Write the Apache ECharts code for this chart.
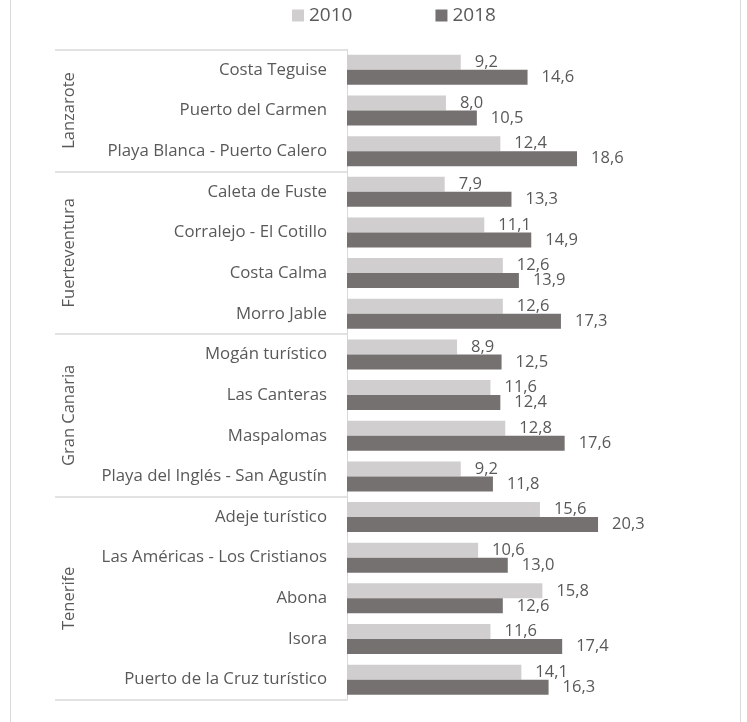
<!DOCTYPE html>
<html>
<head>
<meta charset="utf-8">
<script src="https://cdn.jsdelivr.net/npm/echarts@6/dist/echarts.min.js"></script>
<style>
html,body{margin:0;padding:0;background:#fff;}
#main{width:747px;height:722px;}
</style>
</head>
<body>
<div id="main"></div>
<script>
const categories = [
  'Costa Teguise', 'Puerto del Carmen', 'Playa Blanca - Puerto Calero',
  'Caleta de Fuste', 'Corralejo - El Cotillo', 'Costa Calma', 'Morro Jable',
  'Mogán turístico', 'Las Canteras', 'Maspalomas', 'Playa del Inglés - San Agustín',
  'Adeje turístico', 'Las Américas - Los Cristianos', 'Abona', 'Isora', 'Puerto de la Cruz turístico'
];
const values2010 = [9.2, 8.0, 12.4, 7.9, 11.1, 12.6, 12.6, 8.9, 11.6, 12.8, 9.2, 15.6, 10.6, 15.8, 11.6, 14.1];
const values2018 = [14.6, 10.5, 18.6, 13.3, 14.9, 13.9, 17.3, 12.5, 12.4, 17.6, 11.8, 20.3, 13.0, 12.6, 17.4, 16.3];
const seriesNames = ['2010', '2018'];
const groupNames = ['Lanzarote', 'Fuerteventura', 'Gran Canaria', 'Tenerife'];
const groupSizes = [3, 4, 4, 5];

const FONT = '"Open Sans", "Noto Sans", sans-serif';
const TEXT = '#595959';
const LINE = '#d9d9d9';

// group start indices
const groupStarts = [];
let acc = 0;
groupSizes.forEach(s => { groupStarts.push(acc); acc += s; });

const fmt = p => p.value.toFixed(1).replace('.', ',');

const chart = echarts.init(document.getElementById('main'), null, {renderer: 'canvas'});
const option = {
  animation: false,
  backgroundColor: '#fff',
  textStyle: {fontFamily: FONT},
  legend: {
    data: seriesNames,
    left: 287,
    top: 1,
    icon: 'rect',
    itemWidth: 12,
    itemHeight: 12,
    itemGap: 83,
    textStyle: {fontFamily: FONT, fontSize: 19, color: TEXT}
  },
  grid: {left: 347, right: 29, top: 49.5, bottom: 22, containLabel: false},
  xAxis: {
    type: 'value', min: 0, max: 30, show: false,
    splitLine: {show: false}
  },
  yAxis: {
    type: 'category',
    data: categories,
    inverse: true,
    axisLine: {show: true, lineStyle: {color: LINE, width: 1}},
    axisTick: {
      show: true,
      length: 292,
      lineStyle: {color: LINE, width: 1.5},
      interval: function (index) { return groupStarts.indexOf(index) >= 0; }
    },
    axisLabel: {
      margin: 20, color: TEXT, fontSize: 16.8, fontFamily: FONT,
      interval: 0
    }
  },
  series: [
    {
      name: seriesNames[0], type: 'bar', data: values2010,
      barWidth: 15, barGap: '0%',
      itemStyle: {color: '#d0cece'},
      label: {show: true, position: 'right', distance: 14, color: TEXT, fontSize: 16.5, fontFamily: FONT, formatter: fmt}
    },
    {
      name: seriesNames[1], type: 'bar', data: values2018,
      barWidth: 15, barGap: '0%',
      itemStyle: {color: '#767171'},
      label: {show: true, position: 'right', distance: 14, color: TEXT, fontSize: 16.5, fontFamily: FONT, formatter: fmt}
    }
  ]
};
chart.setOption(option);

// group labels, placed from the category axis scale
const graphics = [
  {type: 'line', shape: {x1: 10.5, y1: -5, x2: 10.5, y2: 730}, style: {stroke: LINE, lineWidth: 1}, silent: true},
  {type: 'line', shape: {x1: 740.5, y1: -5, x2: 740.5, y2: 730}, style: {stroke: LINE, lineWidth: 1}, silent: true}
];
groupNames.forEach((name, g) => {
  const first = groupStarts[g];
  const last = first + groupSizes[g] - 1;
  const y1 = chart.convertToPixel({yAxisIndex: 0}, categories[first]);
  const y2 = chart.convertToPixel({yAxisIndex: 0}, categories[last]);
  graphics.push({
    type: 'text',
    x: 69, y: (y1 + y2) / 2,
    rotation: Math.PI / 2,
    style: {text: name, fill: TEXT, font: '16.5px ' + FONT, textAlign: 'center', textVerticalAlign: 'middle'},
    silent: true
  });
});
chart.setOption({graphic: graphics});
</script>
</body>
</html>
